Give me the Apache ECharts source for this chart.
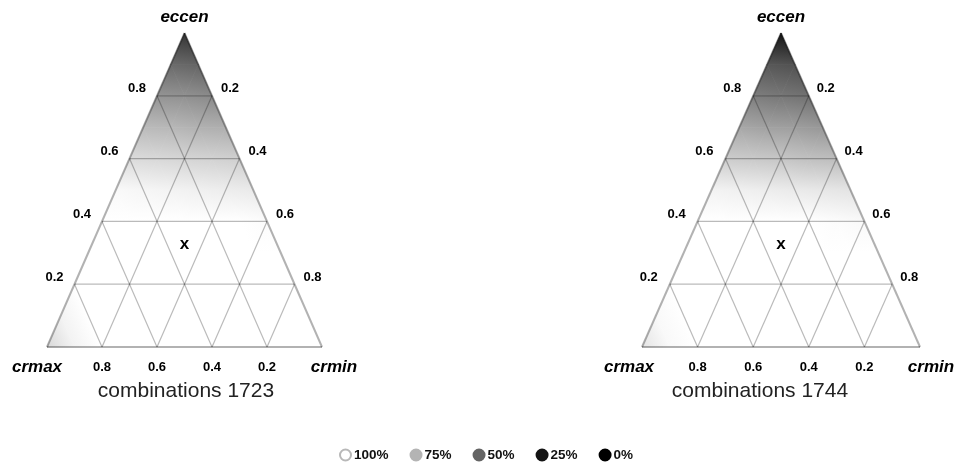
<!DOCTYPE html>
<html>
<head>
<meta charset="utf-8">
<script src="https://cdn.jsdelivr.net/npm/echarts@6/dist/echarts.min.js"></script>
<style>
  html, body { margin: 0; padding: 0; background: #fff; }
  #chart { width: 956px; height: 464px; }
</style>
</head>
<body>
<div id="chart"></div>
<script>
const FONT = '"Liberation Sans", Arial, Helvetica, sans-serif';

// Panel captions and corner names
const panelTitles = ['combinations 1723', 'combinations 1744'];
const axisNames = ['eccen', 'crmax', 'crmin'];

// Tick values along each side and their labels
const tickValues = [0.2, 0.4, 0.6, 0.8];
const tickLabels = ['0.2', '0.4', '0.6', '0.8'];

// Grey scale key
const legendLabels = ['100%', '75%', '50%', '25%', '0%'];
const legendLevels = [100, 75, 50, 25, 0];
const grayLevels = [255, 180, 100, 20, 0];

// Score (%) on the ternary lattice, step 0.1.
// Row k = eccen k/10, entry j = crmin j/10 (crmax = 1 - eccen - crmin).
const shade1723 = [
  [87, 96, 100, 100, 100, 100, 100, 100, 100, 100, 100],
  [96, 100, 100, 100, 100, 100, 100, 100, 100, 100],
  [100, 100, 100, 100, 100, 100, 100, 100, 100],
  [100, 100, 100, 100, 100, 100, 100, 100],
  [100, 100, 100, 100, 100, 100, 99],
  [98, 97, 96, 95, 94, 93],
  [88, 87, 86, 85, 84],
  [77, 76, 74, 73],
  [65, 64, 62],
  [52, 50],
  [35]
];
const shade1744 = [
  [91, 98, 100, 100, 100, 100, 100, 100, 100, 100, 100],
  [98, 100, 100, 100, 100, 100, 100, 100, 100, 100],
  [100, 100, 100, 100, 100, 100, 100, 100, 100],
  [100, 100, 100, 100, 100, 100, 100, 100],
  [100, 100, 100, 100, 100, 99, 98],
  [96, 95, 94, 93, 92, 91],
  [83, 82, 81, 79, 78],
  [71, 69, 68, 66],
  [58, 56, 54],
  [46, 44],
  [25]
];
const panelShades = [shade1723, shade1744];

// Marked composition (eccen, crmin)
const markerPoint = [1 / 3, 1 / 3];

// ---- helpers ----
function shade(v) {
  for (let i = 0; i < legendLevels.length - 1; i++) {
    const hi = legendLevels[i], lo = legendLevels[i + 1];
    if (v >= lo) {
      const t = (v - lo) / (hi - lo);
      const g = Math.round(grayLevels[i + 1] + t * (grayLevels[i] - grayLevels[i + 1]));
      return 'rgb(' + g + ',' + g + ',' + g + ')';
    }
  }
  const g = grayLevels[grayLevels.length - 1];
  return 'rgb(' + g + ',' + g + ',' + g + ')';
}

// ternary (eccen, crmin) -> plane (x, y) with the triangle inside the unit square
function toXY(a, c) { return [c + a / 2, a]; }

// Linear shading over a triangle: the score is affine inside it, so a
// global linear gradient along its gradient direction reproduces it.
function cellFill(p, v) {
  const vmin = Math.min(v[0], v[1], v[2]);
  const vmax = Math.max(v[0], v[1], v[2]);
  if (vmax - vmin < 0.01) return shade(v[0]);
  const d1x = p[1][0] - p[0][0], d1y = p[1][1] - p[0][1];
  const d2x = p[2][0] - p[0][0], d2y = p[2][1] - p[0][1];
  const det = d1x * d2y - d1y * d2x;
  const dv1 = v[1] - v[0], dv2 = v[2] - v[0];
  const gx = (dv1 * d2y - dv2 * d1y) / det;
  const gy = (dv2 * d1x - dv1 * d2x) / det;
  const g2 = gx * gx + gy * gy;
  const sx = p[0][0] + gx * (vmin - v[0]) / g2, sy = p[0][1] + gy * (vmin - v[0]) / g2;
  const ex = p[0][0] + gx * (vmax - v[0]) / g2, ey = p[0][1] + gy * (vmax - v[0]) / g2;
  const stops = [{ offset: 0, color: shade(vmin) }];
  legendLevels.slice().reverse().forEach(function (L) {
    if (L > vmin && L < vmax) stops.push({ offset: (L - vmin) / (vmax - vmin), color: shade(L) });
  });
  stops.push({ offset: 1, color: shade(vmax) });
  return new echarts.graphic.LinearGradient(sx, sy, ex, ey, stops, true);
}

function buildCells(values) {
  const n = values.length - 1;
  const out = [];
  const P = function (k, j) { const xy = toXY(k / n, j / n); return [xy[0], xy[1], values[k][j]]; };
  for (let k = 0; k < n; k++) {
    for (let j = 0; j < n - k; j++) {
      out.push([].concat(P(k, j), P(k, j + 1), P(k + 1, j)));
      if (j < n - k - 1) out.push([].concat(P(k, j + 1), P(k + 1, j + 1), P(k + 1, j)));
    }
  }
  return out;
}

function buildLines() {
  const out = [];
  tickValues.forEach(function (t) {
    out.push([].concat(toXY(t, 0), toXY(t, 1 - t), [0]));        // constant eccen
    out.push([].concat(toXY(0, t), toXY(1 - t, t), [0]));        // constant crmin
    out.push([].concat(toXY(0, 1 - t), toXY(1 - t, 0), [0]));    // constant crmax
  });
  out.push([].concat(toXY(0, 0), toXY(0, 1), [1]));
  out.push([].concat(toXY(0, 1), toXY(1, 0), [1]));
  out.push([].concat(toXY(1, 0), toXY(0, 0), [1]));
  return out;
}

const TICK_FONT = 'bold 13px ' + FONT;
const NAME_FONT = 'italic bold 17px ' + FONT;
const MARK_FONT = 'bold 17px ' + FONT;

function buildLabels(panel) {
  const sideOff = panel === 0 ? [-20, 18] : [-21, 17];
  const cornerOff = panel === 0 ? [-10, 12] : [-13, 11];
  const out = [];
  tickValues.forEach(function (t, i) {
    out.push({ pos: toXY(t, 0), dx: sideOff[0], dy: -7, text: tickLabels[i], font: TICK_FONT });
    out.push({ pos: toXY(1 - t, t), dx: sideOff[1], dy: -7, text: tickLabels[i], font: TICK_FONT });
    out.push({ pos: toXY(0, 1 - t), dx: 0, dy: 20, text: tickLabels[i], font: TICK_FONT });
  });
  out.push({ pos: toXY(1, 0), dx: 0, dy: -16, text: axisNames[0], font: NAME_FONT });
  out.push({ pos: toXY(0, 0), dx: cornerOff[0], dy: 20, text: axisNames[1], font: NAME_FONT });
  out.push({ pos: toXY(0, 1), dx: cornerOff[1], dy: 20, text: axisNames[2], font: NAME_FONT });
  out.push({ pos: toXY(markerPoint[0], markerPoint[1]), dx: 0, dy: 2, text: 'x', font: MARK_FONT });
  return out;
}

const series = [];
const grids = [
  { left: 47, top: 33, width: 275, height: 314 },
  { left: 642, top: 33, width: 278, height: 314 }
];
const titleCenters = [186, 760];

[0, 1].forEach(function (pi) {
  series.push({
    type: 'custom', xAxisIndex: pi, yAxisIndex: pi, silent: true, clip: false, z: 1,
    data: buildCells(panelShades[pi]),
    renderItem: function (params, api) {
      const pts = [], vals = [];
      for (let i = 0; i < 3; i++) {
        pts.push(api.coord([api.value(i * 3), api.value(i * 3 + 1)]));
        vals.push(api.value(i * 3 + 2));
      }
      const fill = cellFill(pts, vals);
      return { type: 'polygon', shape: { points: pts }, style: { fill: fill, stroke: fill, lineWidth: 0.8 } };
    }
  });
  series.push({
    type: 'custom', xAxisIndex: pi, yAxisIndex: pi, silent: true, clip: false, z: 2,
    data: buildLines(),
    renderItem: function (params, api) {
      const p1 = api.coord([api.value(0), api.value(1)]);
      const p2 = api.coord([api.value(2), api.value(3)]);
      const outer = api.value(4) === 1;
      return {
        type: 'line',
        shape: { x1: p1[0], y1: p1[1], x2: p2[0], y2: p2[1] },
        style: { stroke: outer ? 'rgba(0,0,0,0.30)' : 'rgba(0,0,0,0.27)', lineWidth: outer ? 2 : 1.2 }
      };
    }
  });
  const labels = buildLabels(pi);
  series.push({
    type: 'custom', xAxisIndex: pi, yAxisIndex: pi, silent: true, clip: false, z: 3,
    data: labels.map(function (l) { return l.pos; }),
    renderItem: function (params, api) {
      const l = labels[params.dataIndex];
      const p = api.coord([api.value(0), api.value(1)]);
      return {
        type: 'text',
        style: { x: p[0] + l.dx, y: p[1] + l.dy, text: l.text, font: l.font, fill: '#000', align: 'center', verticalAlign: 'middle' }
      };
    }
  });
});

// key entries
legendLabels.forEach(function (name, i) {
  const lvl = legendLevels[i];
  series.push({
    type: 'scatter', name: name, xAxisIndex: 0, yAxisIndex: 0, data: [], symbol: 'circle',
    itemStyle: { color: shade(lvl), opacity: 1, borderColor: lvl === 100 ? '#b8b8b8' : shade(lvl), borderWidth: 1.5 }
  });
});

const chart = echarts.init(document.getElementById('chart'), null, { renderer: 'canvas' });
chart.setOption({
  backgroundColor: '#fff',
  animation: false,
  title: panelTitles.map(function (t, i) {
    return {
      text: t, left: titleCenters[i], top: 381, textAlign: 'center', padding: 0,
      textStyle: { fontFamily: FONT, fontSize: 21, fontWeight: 'normal', color: '#222' }
    };
  }),
  legend: {
    data: legendLabels, left: 339, top: 448, icon: 'circle', itemWidth: 11, itemHeight: 11,
    itemGap: 21, selectedMode: false, padding: 0,
    itemStyle: { opacity: 1 },
    textStyle: { fontFamily: FONT, fontSize: 13.5, fontWeight: 'bold', color: '#111', padding: [0, 0, 0, -2] }
  },
  grid: grids,
  xAxis: grids.map(function (g, i) { return { gridIndex: i, type: 'value', min: 0, max: 1, show: false }; }),
  yAxis: grids.map(function (g, i) { return { gridIndex: i, type: 'value', min: 0, max: 1, show: false }; }),
  series: series
});
</script>
</body>
</html>
